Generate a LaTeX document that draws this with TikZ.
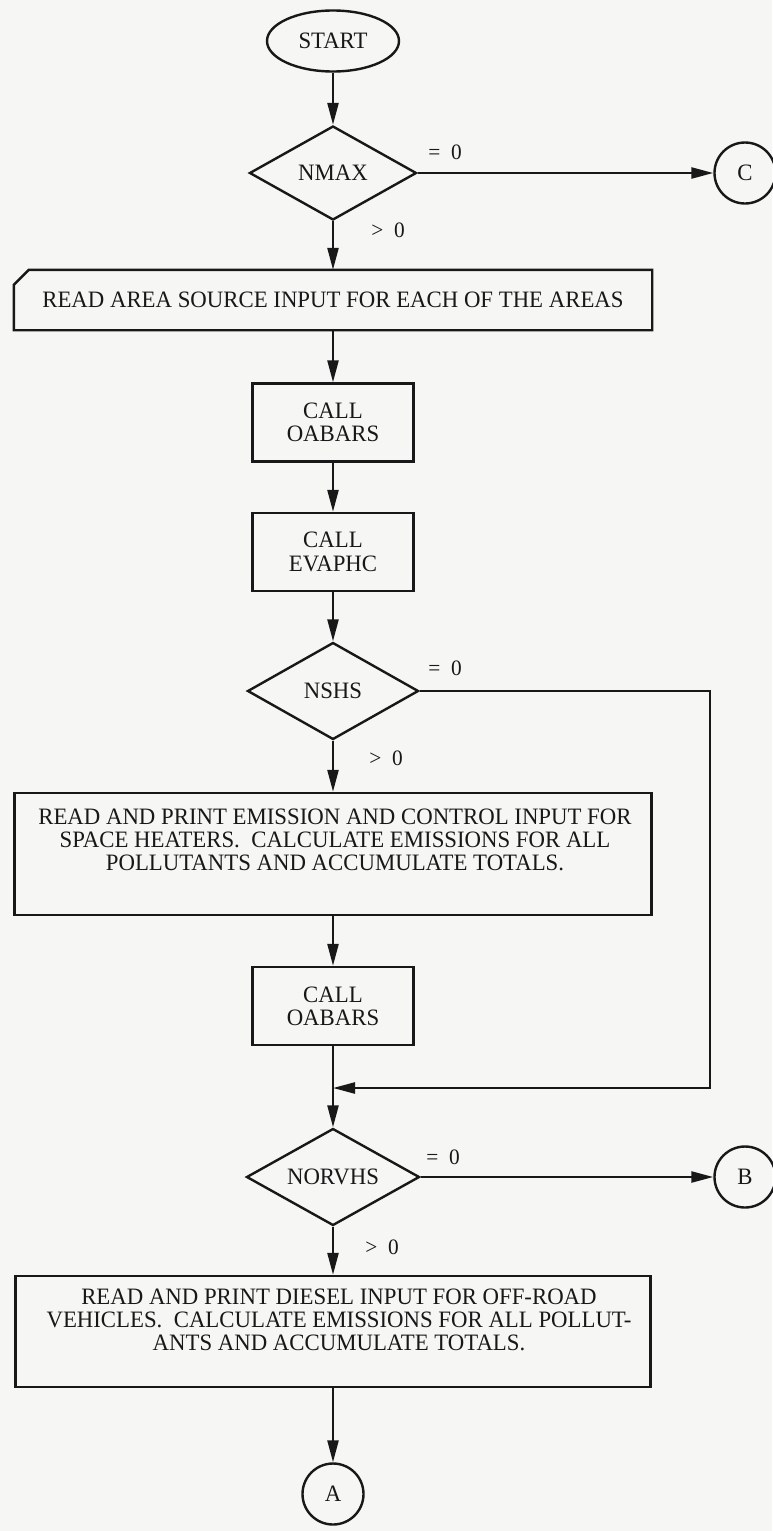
\documentclass[tikz,border=0pt]{standalone}
\usepackage{fontspec}
\setmainfont{Liberation Serif}[FakeStretch=0.97]
\usetikzlibrary{shapes.geometric,arrows.meta,calc}
\definecolor{paper}{RGB}{246,246,244}
\definecolor{ink}{RGB}{24,24,24}
\begin{document}
\begin{tikzpicture}[x=1pt,y=-1pt,
  every node/.style={font=\fontsize{23.5}{23.3}\selectfont, text=ink},
  lw/.style={draw=ink, line width=2.4pt},
  flow/.style={lw, -{Triangle[length=22pt,width=11pt]}},
  procbox/.style={lw, rectangle, minimum width=161pt, minimum height=78pt, align=center, inner sep=0pt},
  decision/.style={lw, diamond, aspect=1.8, inner sep=0pt},
  connector/.style={lw, circle, minimum size=61pt, inner sep=0pt},
  branch/.style={inner sep=0pt, font=\fontsize{22}{23}\selectfont}
]
% page
\fill[paper] (0,0) rectangle (772,1531);
\useasboundingbox (0,0) rectangle (772,1531);

% terminal and first decision
\node[lw, ellipse, minimum width=132pt, minimum height=61pt, inner sep=0pt] (start) at (333,41) {START};
\node[decision, minimum width=167pt, minimum height=94pt] (nmax) at (333,173) {NMAX};
\node[connector] (cC) at (745,173) {C};

% area source input (cut corner at top left)
\node[minimum width=638pt, minimum height=60pt, inner sep=0pt] (area) at (333,300)
  {READ AREA SOURCE INPUT FOR EACH OF THE AREAS};
\draw[lw] ($(area.north west)+(0,15)$) -- ($(area.north west)+(15,0)$) -- (area.north east)
  -- (area.south east) -- (area.south west) -- cycle;

\node[procbox] (oab1) at (333,422.5) {CALL\\OABARS};
\node[procbox] (evap) at (333,552) {CALL\\EVAPHC};

% space heaters
\node[decision, minimum width=171pt, minimum height=97pt] (nshs) at (333,691) {NSHS};
\node[lw, rectangle, minimum width=637pt, minimum height=122pt, inner sep=0pt] (heat) at (333,854) {};
\node[align=center, inner sep=0pt] (heattext) at (335,840)
  {READ AND PRINT EMISSION AND CONTROL INPUT FOR\\
   SPACE HEATERS.~ CALCULATE EMISSIONS FOR ALL\\
   POLLUTANTS AND ACCUMULATE TOTALS.};
\node[procbox] (oab2) at (333,1006) {CALL\\OABARS};
\coordinate (merge) at (333,1088);
\coordinate (loopx) at (710,1088);

% off-road vehicles
\node[decision, minimum width=173pt, minimum height=97pt] (norv) at (333,1177) {NORVHS};
\node[connector] (cB) at (745,1177) {B};
\node[lw, rectangle, minimum width=635pt, minimum height=111pt, inner sep=0pt] (diesel) at (333,1331.5) {};
\node[align=center, inner sep=0pt] (dieseltext) at (339,1320)
  {READ AND PRINT DIESEL INPUT FOR OFF-ROAD\\
   VEHICLES.~ CALCULATE EMISSIONS FOR ALL POLLUT-\\
   ANTS AND ACCUMULATE TOTALS.};
\node[connector] (cA) at (333,1494) {A};

% branch labels
\node[branch] (l1) at (445,152) {=~~0};
\node[branch] (l2) at (388,230) {>~~0};
\node[branch] (l3) at (445,668) {=~~0};
\node[branch] (l4) at (386,758) {>~~0};
\node[branch] (l5) at (443,1157) {=~~0};
\node[branch] (l6) at (382,1247) {>~~0};

% connectors
\draw[flow] (start) -- (nmax);
\draw[flow] (nmax.east) -- (cC.west);
\draw[flow] (nmax.south) -- (area.north);
\draw[flow] (area.south) -- (oab1.north);
\draw[flow] (oab1.south) -- (evap.north);
\draw[flow] (evap.south) -- (nshs.north);
\draw[flow] (nshs.south) -- (heat.north);
\draw[flow] (heat.south) -- (oab2.north);
\draw[flow] (oab2.south) -- (norv.north);
\draw[flow] (nshs.east) -| (loopx) -- (merge);
\draw[flow] (norv.east) -- (cB.west);
\draw[flow] (norv.south) -- (diesel.north);
\draw[flow] (diesel.south) -- (cA.north);
\end{tikzpicture}
\end{document}
